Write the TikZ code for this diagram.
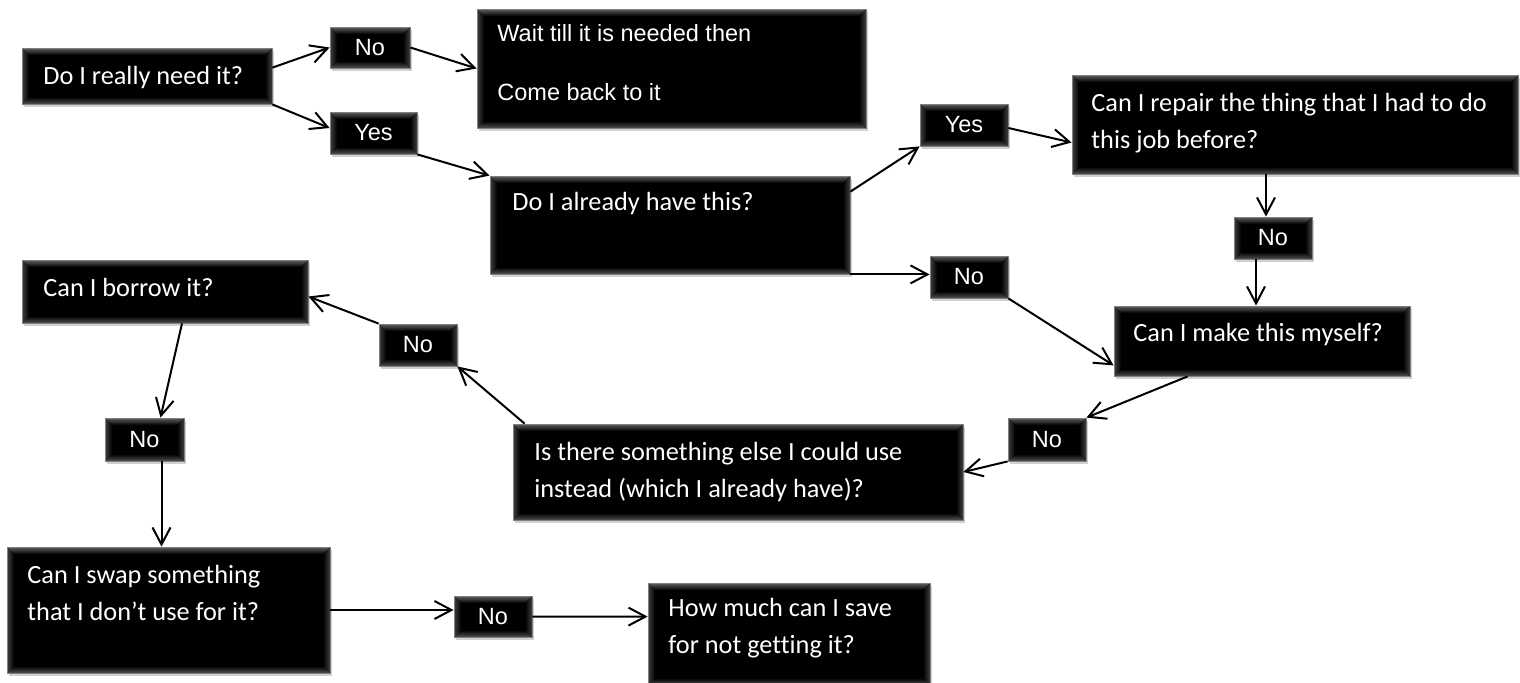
\documentclass[tikz,border=0pt]{standalone}
\usepackage{fontspec}
\newfontfamily\calfont[Ligatures=NoCommon]{Carlito}
\newfontfamily\arifont{Liberation Sans}
\usetikzlibrary{arrows.meta,calc,shadows}
\newcommand\qstrut{\rule{0pt}{11pt}}
\begin{document}
\begin{tikzpicture}[x=0.5pt,y=-0.5pt,
  bevelbox/.style={rectangle, fill=black, draw=black!50, line width=0.4pt, inner sep=0pt,
    drop shadow={shadow xshift=1pt,shadow yshift=-1.5pt,opacity=0.3,fill=black!60},
    path picture={
      \path (path picture bounding box.south west) coordinate (bvsw)
            (path picture bounding box.north east) coordinate (bvne);
      \path (bvsw |- bvne) coordinate (bvnw) (bvsw -| bvne) coordinate (bvse);
      \shade[top color=black!62, bottom color=black] (bvnw) -- (bvne) -- ($(bvne)+(-3.5pt,-3.5pt)$) -- ($(bvnw)+(3.5pt,-3.5pt)$) -- cycle;
      \shade[top color=black, bottom color=black!68] (bvsw) -- (bvse) -- ($(bvse)+(-3.5pt,3.5pt)$) -- ($(bvsw)+(3.5pt,3.5pt)$) -- cycle;
      \shade[left color=black!75, right color=black] (bvnw) -- ($(bvnw)+(3.5pt,-3.5pt)$) -- ($(bvsw)+(3.5pt,3.5pt)$) -- (bvsw) -- cycle;
      \shade[left color=black, right color=black!75] (bvne) -- ($(bvne)+(-3.5pt,-3.5pt)$) -- ($(bvse)+(-3.5pt,3.5pt)$) -- (bvse) -- cycle;
    }},
  ynbox/.style={bevelbox, text=white, font=\arifont\fontsize{11.75}{14}\selectfont},
  qtext/.style={text=white, inner sep=0pt, anchor=north west, align=left,
    font=\calfont\fontsize{13.15}{18.5}\selectfont},
  atext/.style={text=white, inner sep=0pt, anchor=north west, align=left,
    font=\arifont\fontsize{11.75}{29.5}\selectfont},
  conn/.style={draw=black, line width=1pt, -{Straight Barb[length=8.5pt,width=9pt]}}
]
\fill[white] (0,0) rectangle (1520,682);
\useasboundingbox (0,0) rectangle (1520,682);

% question boxes
\node[bevelbox, minimum width=125pt, minimum height=28pt] (A) at (147,76) {};
\node[bevelbox, minimum width=194.5pt, minimum height=59.5pt] (W) at (671.5,68.5) {};
\node[bevelbox, minimum width=180pt, minimum height=49pt] (B) at (670,225) {};
\node[bevelbox, minimum width=223pt, minimum height=49.5pt] (C) at (1295,124.5) {};
\node[bevelbox, minimum width=148pt, minimum height=35pt] (D) at (1262,341) {};
\node[bevelbox, minimum width=143pt, minimum height=31.5pt] (E) at (165,291.5) {};
\node[bevelbox, minimum width=225pt, minimum height=48pt] (F) at (738,472) {};
\node[bevelbox, minimum width=161.5pt, minimum height=63pt] (G) at (168.5,610) {};
\node[bevelbox, minimum width=141pt, minimum height=51pt] (H) at (789,634) {};

% texts
\node[qtext] (At) at (43,62) {\qstrut Do I really need it?};
\node[atext] (Wt) at (497,19) {\rule{0pt}{11pt}Wait till it is needed then\\Come back to it};
\node[qtext] (Bt) at (512,188) {\qstrut Do I already have this?};
\node[qtext] (Ct) at (1091,89) {\qstrut Can I repair the thing that I had to do\\this job before?};
\node[qtext] (Dt) at (1133,319) {\qstrut Can I make this myself?};
\node[qtext] (Et) at (43,274) {\qstrut Can I borrow it?};
\node[qtext] (Ft) at (534,438) {\qstrut Is there something else I could use\\instead (which I already have)?};
\node[qtext] (Gt) at (27,561) {\qstrut Can I swap something\\that I don’t use for it?};
\node[qtext] (Ht) at (668,594) {\qstrut How much can I save\\for not getting it?};

% yes / no boxes
\node[ynbox, minimum width=40pt, minimum height=20.5pt] (NoA) at (370,47.5) {No};
\node[ynbox, minimum width=43.5pt, minimum height=21pt] (YesA) at (373.5,133) {Yes};
\node[ynbox, minimum width=44pt, minimum height=21pt] (YesB) at (964,125) {Yes};
\node[ynbox, minimum width=39pt, minimum height=21pt] (NoB) at (969,277) {No};
\node[ynbox, minimum width=39pt, minimum height=21pt] (NoC) at (1273,238) {No};
\node[ynbox, minimum width=39pt, minimum height=21.5pt] (NoD) at (1047,439.5) {No};
\node[ynbox, minimum width=39pt, minimum height=21pt] (NoF) at (418,345) {No};
\node[ynbox, minimum width=39.5pt, minimum height=21.5pt] (NoE) at (144.5,439.5) {No};
\node[ynbox, minimum width=39pt, minimum height=20.5pt] (NoG) at (493,616.5) {No};

% connectors
\draw[conn] ($(A.north east)+(0,20)$) -- (NoA.west);
\draw[conn] (A.south east) -- ($(YesA.west)+(0,-5)$);
\draw[conn] (NoA.east) -- (W.west);
\draw[conn] (YesA.south east) -- (B.north west);
\draw[conn] ($(B.north east)+(0,16)$) -- (YesB.south west);
\draw[conn] (B.south east) -- (B.south east -| NoB.west);
\draw[conn] ($(YesB.east)+(0,3)$) -- ($(C.west)+(0,18)$);
\draw[conn] ($(C.south)+(-29,0)$) -- ($(NoC.north)+(-7,0)$);
\draw[conn] ($(NoC.south)+(-17,0)$) -- ($(D.north)+(-6,0)$);
\draw[conn] (NoB.south east) -- ($(D.south west)+(0,-11)$);
\draw[conn] ($(D.south west)+(74,0)$) -- (NoD.north east);
\draw[conn] (NoD.south west) -- (F.east);
\draw[conn] ($(F.north west)+(12,0)$) -- (NoF.south east);
\draw[conn] (NoF.north west) -- ($(E.east)+(0,5)$);
\draw[conn] ($(E.south)+(17,0)$) -- ($(NoE.north)+(16,0)$);
\draw[conn] ($(NoE.south)+(17,0)$) -- ($(G.north)+(-7,0)$);
\draw[conn] (G.east) -- (G.east -| NoG.west);
\draw[conn] (NoG.east) -- ($(H.north west)+(0,34)$);
\end{tikzpicture}
\end{document}
